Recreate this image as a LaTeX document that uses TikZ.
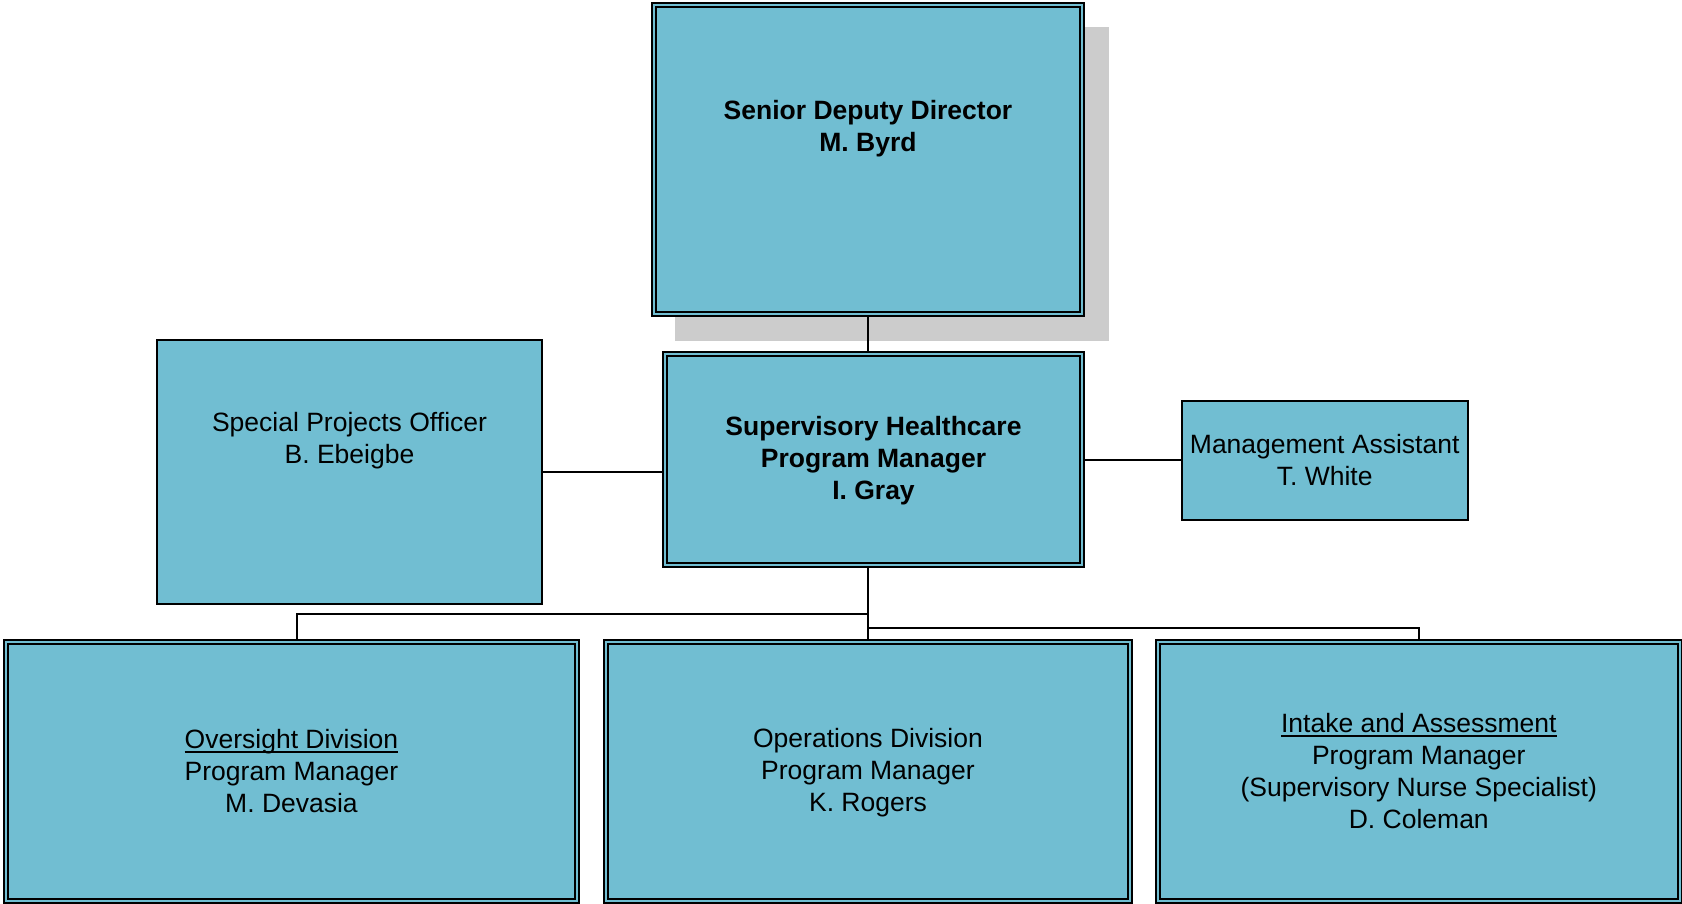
\documentclass[tikz,border=0pt]{standalone}
\usepackage{fontspec}
\setmainfont{Liberation Sans}
\usetikzlibrary{backgrounds}
\definecolor{boxfill}{RGB}{113,190,210}
\definecolor{shadowgray}{RGB}{204,204,204}
\newcommand\txtfont{\fontsize{26.5}{32}\selectfont}
\newcommand\myul[1]{\leavevmode\setbox0\hbox{#1}\rlap{\vrule height -2pt depth 4pt width \wd0}\box0}
\tikzset{
  dbox/.style={draw=black, line width=1.4pt, double=boxfill, double distance=2.6pt, fill=boxfill, inner sep=0pt, align=center, font=\txtfont},
  sbox/.style={draw=black, line width=2pt, fill=boxfill, inner sep=0pt, align=center, font=\txtfont},
  conn/.style={draw=black, line width=2pt},
  lbl/.style={align=center, font=\txtfont, inner sep=0pt},
  shadowbox/.style={fill=shadowgray, draw=none, inner sep=0pt},
}
\begin{document}
\begin{tikzpicture}[x=1pt,y=-1pt]
\useasboundingbox (0,0) rectangle (1682,904);
% boxes
\node[dbox, minimum width=428pt, minimum height=309pt] (sdd) at (868,159.5) {};
\node[lbl, font=\txtfont\bfseries] (sddtxt) at (868,128.5) {Senior Deputy Director\\M. Byrd};
\node[dbox, minimum width=417pt, minimum height=211pt] (shpm) at (873.5,459.5) {};
\node[lbl, font=\txtfont\bfseries] (shpmtxt) at (873.5,461) {Supervisory Healthcare\\Program Manager\\I. Gray};
\node[sbox, minimum width=385pt, minimum height=264pt] (sp) at (349.5,472) {};
\node[lbl] (sptxt) at (349.5,440.5) {Special Projects Officer\\B. Ebeigbe};
\node[sbox, minimum width=286pt, minimum height=119pt] (ma) at (1324.7,460) {Management Assistant\\T. White};
\node[dbox, minimum width=571pt, minimum height=259pt] (ov) at (291.5,771.5) {\myul{Oversight Division}\\Program Manager\\M. Devasia};
\node[dbox, minimum width=524pt, minimum height=259pt] (ops) at (868,771.5) {};
\node[lbl] (opstxt) at (868,773) {Operations Division\\Program Manager\\K. Rogers};
\node[dbox, minimum width=522pt, minimum height=259pt] (int) at (1418.8,771.5) {\myul{Intake and Assessment}\\Program Manager\\(Supervisory Nurse Specialist)\\D. Coleman};
% junctions
\coordinate (j1) at (868,614);
\coordinate (j2) at (868,628);
\coordinate (ovtop) at (297,640);
\begin{scope}[on background layer]
% shadow of top box
\node[shadowbox, minimum width=434pt, minimum height=314pt] (shadow) at (892,184) {};
\draw[conn] (sdd.south) -- (sdd.south |- shpm.north);
\draw[conn] (sp.east) -- (sp.east -| shpm.west);
\draw[conn] (ma.west -| shpm.east) -- (ma.west);
\draw[conn] (ops.north |- shpm.south) -- (ops.north);
\draw[conn] (ovtop) |- (j1);
\draw[conn] (j2) -| (int.north);
\end{scope}
\end{tikzpicture}
\end{document}
